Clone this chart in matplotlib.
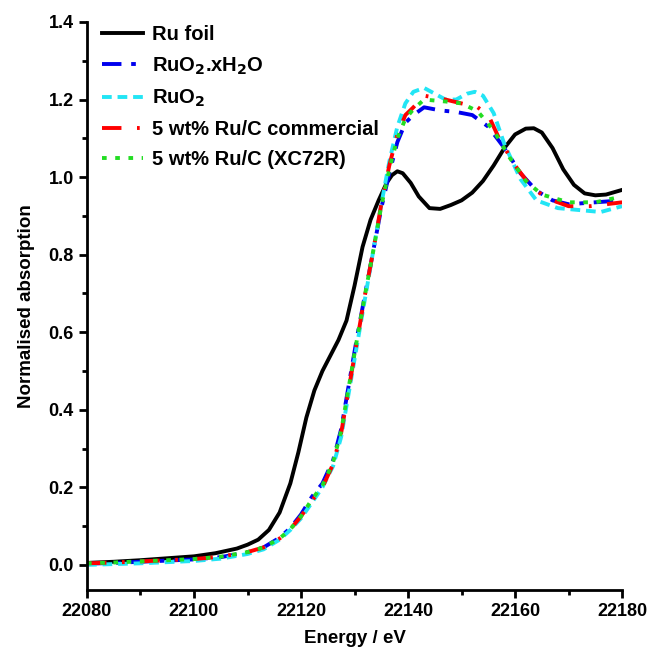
import matplotlib.pyplot as plt
from matplotlib.ticker import MultipleLocator

plt.rcParams['font.family'] = ['Liberation Sans', 'DejaVu Sans']
plt.rcParams['font.weight'] = 'bold'
plt.rcParams['mathtext.default'] = 'bf'

# Ru K-edge XANES, normalised
foil_e = [22080, 22085, 22090, 22095, 22100, 22104, 22108, 22110, 22112, 22114,
          22116, 22118, 22119.5, 22121, 22122.5, 22124, 22125.5, 22127, 22128.5,
          22130, 22131.5, 22133, 22134.5, 22136, 22137, 22138, 22139, 22140.5,
          22142, 22144, 22146, 22148, 22150, 22152, 22154, 22156, 22158, 22160,
          22162, 22163.5, 22165, 22167, 22169, 22171, 22173, 22175, 22177, 22180]
foil_mu = [0.005, 0.008, 0.012, 0.017, 0.022, 0.030, 0.042, 0.052, 0.065, 0.090,
           0.135, 0.210, 0.290, 0.380, 0.450, 0.500, 0.540, 0.580, 0.630,
           0.720, 0.820, 0.890, 0.940, 0.985, 1.005, 1.015, 1.010, 0.985,
           0.950, 0.920, 0.918, 0.928, 0.940, 0.960, 0.990, 1.030, 1.075, 1.110,
           1.125, 1.126, 1.115, 1.075, 1.020, 0.980, 0.958, 0.953, 0.955, 0.967]

edge_e = [22080, 22085, 22090, 22095, 22100, 22105, 22110, 22113, 22116, 22118,
          22120, 22122, 22124, 22126, 22127.5, 22129, 22130.5, 22132, 22133.5,
          22135, 22136.5, 22138, 22139.5, 22141]
hydrous_mu = [0.003, 0.005, 0.008, 0.011, 0.014, 0.020, 0.032, 0.045, 0.070, 0.095,
              0.130, 0.175, 0.210, 0.270, 0.350, 0.470, 0.590, 0.700, 0.810,
              0.920, 1.010, 1.090, 1.140, 1.160]
rucomm_mu = [0.004, 0.006, 0.009, 0.012, 0.015, 0.021, 0.033, 0.045, 0.068, 0.092,
             0.125, 0.165, 0.200, 0.260, 0.340, 0.460, 0.580, 0.700, 0.810,
             0.930, 1.030, 1.110, 1.160, 1.180]

hydrous_post_e = [22143, 22146, 22149, 22152, 22155, 22158, 22161, 22164, 22167, 22170, 22175, 22180]
hydrous_post = [1.180, 1.172, 1.168, 1.160, 1.130, 1.075, 1.010, 0.965, 0.940, 0.930, 0.935, 0.940]

ruo2_e = [22080, 22085, 22090, 22095, 22100, 22105, 22110, 22113, 22116, 22118,
          22120, 22122, 22124, 22126, 22127.5, 22129, 22130.5, 22132, 22133.5,
          22135, 22136.5, 22138, 22139.5, 22141, 22143, 22145, 22147, 22149,
          22151, 22152.5, 22154, 22156, 22158, 22161, 22164, 22168, 22172, 22176, 22180]
ruo2_mu = [0.000, 0.002, 0.004, 0.007, 0.010, 0.016, 0.028, 0.040, 0.065, 0.090,
           0.120, 0.160, 0.200, 0.255, 0.330, 0.450, 0.570, 0.690, 0.810,
           0.930, 1.040, 1.130, 1.190, 1.220, 1.230, 1.215, 1.200, 1.200,
           1.215, 1.220, 1.210, 1.165, 1.085, 0.995, 0.940, 0.920, 0.915, 0.910, 0.925]

rucomm_post_e = [22143, 22147, 22150, 22153, 22155, 22157, 22160, 22163, 22166, 22170, 22174, 22180]
rucomm_post = [1.210, 1.200, 1.190, 1.180, 1.160, 1.100, 1.030, 0.975, 0.945, 0.925, 0.925, 0.935]

xc72_e = [22080, 22085, 22090, 22095, 22100, 22105, 22110, 22113, 22116, 22118,
          22120, 22122, 22124, 22126, 22127.5, 22129, 22130.5, 22132, 22133.5,
          22135, 22136.5, 22138, 22139.5, 22141, 22143, 22147, 22150, 22153,
          22156, 22159, 22162, 22165, 22170, 22175, 22180]
xc72_mu = [0.004, 0.006, 0.009, 0.012, 0.015, 0.021, 0.033, 0.045, 0.068, 0.092,
           0.125, 0.168, 0.205, 0.265, 0.345, 0.465, 0.585, 0.700, 0.810,
           0.925, 1.020, 1.100, 1.150, 1.175, 1.200, 1.195, 1.190, 1.170,
           1.120, 1.050, 0.990, 0.955, 0.935, 0.935, 0.950]

fig = plt.figure(figsize=(6.51, 6.47), dpi=100)
ax = fig.add_axes([0.1336, 0.088, 0.822, 0.878])

lw = 2.8
ax.plot(foil_e, foil_mu, color='black', lw=lw, label='Ru foil')
ax.plot(edge_e + hydrous_post_e, hydrous_mu + hydrous_post, color='#0000ee', lw=lw,
        dashes=(5, 2.5, 1.2, 2.5), label=r'RuO$_2$.xH$_2$O')
ax.plot(ruo2_e, ruo2_mu, color='#22e5f5', lw=lw, dashes=(2.5, 1.5), label=r'RuO$_2$')
ax.plot(edge_e + rucomm_post_e, rucomm_mu + rucomm_post, color='#ff0000', lw=lw,
        dashes=(5, 4, 0.7, 4), label='5 wt% Ru/C commercial')
ax.plot(xc72_e, xc72_mu, color='#22dd22', lw=lw, dashes=(1.2, 2.2), label='5 wt% Ru/C (XC72R)')

ax.set_xlim(22080, 22180)
ax.set_ylim(-0.065, 1.4)
ax.xaxis.set_major_locator(MultipleLocator(20))
ax.xaxis.set_minor_locator(MultipleLocator(10))
ax.yaxis.set_major_locator(MultipleLocator(0.2))
ax.yaxis.set_minor_locator(MultipleLocator(0.1))
ax.yaxis.set_major_formatter(lambda v, p: f'{v:.1f}')

for side in ['top', 'right']:
    ax.spines[side].set_visible(False)
for side in ['left', 'bottom']:
    ax.spines[side].set_linewidth(2)
ax.tick_params(which='major', direction='out', length=6, width=2, labelsize=13)
ax.tick_params(which='minor', direction='out', length=3.5, width=2)

ax.set_xlabel('Energy / eV', fontsize=13.5, fontweight='bold', labelpad=7)
ax.set_ylabel('Normalised absorption', fontsize=13.5, fontweight='bold', labelpad=10)

ax.legend(loc='upper left', bbox_to_anchor=(-0.005, 1.026), frameon=False, fontsize=14.5,
          handlelength=2.0, labelspacing=0.55, handletextpad=0.45)

plt.savefig('out.png', dpi=100)
plt.close()
